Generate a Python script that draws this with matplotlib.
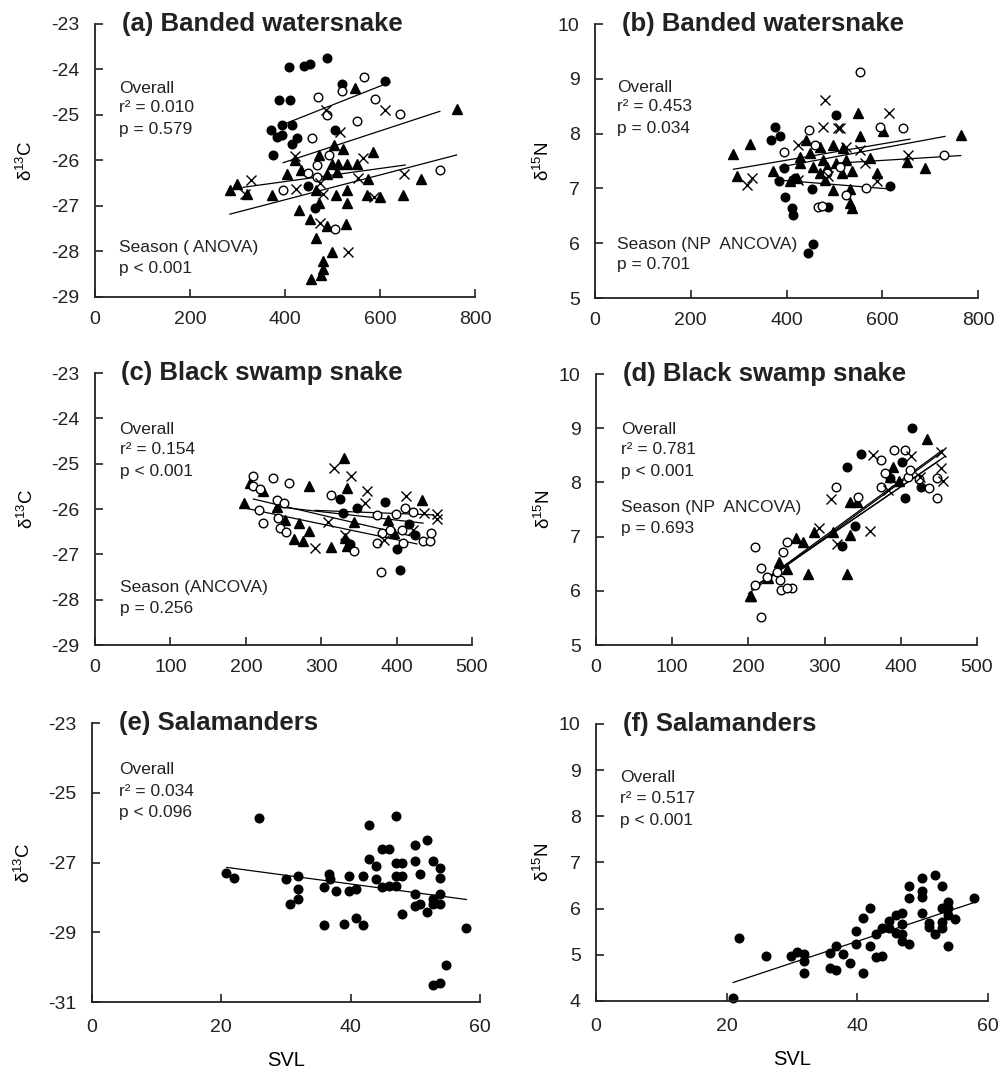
import matplotlib
matplotlib.use('Agg')
import matplotlib.pyplot as plt

plt.rcParams['font.family'] = ['Liberation Sans', 'DejaVu Sans']
plt.rcParams['mathtext.fontset'] = 'custom'
plt.rcParams['mathtext.rm'] = 'Liberation Sans'
plt.rcParams['axes.unicode_minus'] = False

# ---- (a) banded watersnake, d13C ----
a_fc_x = [408, 439, 453, 488, 519, 611, 388, 411, 371, 394, 414, 384, 393, 426, 414, 505, 375, 449, 464]
a_fc_y = [-23.95, -23.93, -23.88, -23.74, -24.31, -24.25, -24.68, -24.68, -25.32, -25.23, -25.23,
          -25.49, -25.43, -25.51, -25.64, -25.32, -25.88, -26.56, -27.04]
a_oc_x = [566, 521, 469, 590, 488, 642, 552, 456, 493, 467, 449, 467, 395, 726, 505]
a_oc_y = [-24.17, -24.47, -24.6, -24.64, -25.0, -24.97, -25.14, -25.51, -25.88, -26.1, -26.27,
          -26.36, -26.66, -26.21, -27.51]
a_tr_x = [547, 763, 504, 523, 586, 472, 421, 498, 512, 531, 551, 405, 433, 488, 509, 575, 686, 298,
          284, 319, 372, 465, 507, 531, 572, 600, 648, 530, 472, 430, 453, 489, 528, 465, 498, 481,
          479, 475, 454]
a_tr_y = [-24.41, -24.86, -25.67, -25.75, -25.81, -25.88, -25.99, -26.07, -26.07, -26.07, -26.07,
          -26.29, -26.21, -26.29, -26.25, -26.4, -26.4, -26.51, -26.66, -26.73, -26.76, -26.66,
          -26.77, -26.66, -26.77, -26.81, -26.76, -26.94, -26.93, -27.08, -27.29, -27.44, -27.4,
          -27.71, -28.02, -28.22, -28.39, -28.52, -28.61]
a_x_x = [328, 316, 423, 481, 420, 486, 610, 516, 565, 554, 650, 587, 474, 533, 474]
a_x_y = [-26.42, -26.73, -26.62, -26.73, -25.9, -24.9, -24.9, -25.38, -25.94, -26.39, -26.29,
         -26.81, -27.37, -28.02, -26.49]
a_lines = [([396, 621], [-25.21, -24.28]), ([396, 726], [-26.05, -24.92]),
           ([312, 653], [-26.59, -26.1]), ([284, 761], [-27.18, -25.88])]

# ---- (b) banded watersnake, d15N ----
b_fc_x = [376, 367, 386, 504, 395, 385, 397, 418, 411, 414, 454, 487, 456, 444, 616]
b_fc_y = [8.12, 7.89, 7.95, 8.34, 7.37, 7.13, 6.85, 7.19, 6.64, 6.52, 6.99, 6.66, 5.99, 5.82, 7.04]
b_oc_x = [553, 447, 395, 460, 595, 644, 729, 567, 525, 466, 475, 484, 512]
b_oc_y = [9.13, 8.07, 7.67, 7.79, 8.13, 8.1, 7.61, 7.0, 6.88, 6.66, 6.68, 7.28, 7.4]
b_tr_x = [289, 324, 297, 372, 440, 550, 602, 765, 651, 689, 574, 588, 532, 536, 532, 497, 428, 449,
          470, 497, 518, 525, 504, 476, 484, 456, 470, 421, 407, 515, 536, 553, 428, 480]
b_tr_y = [7.63, 7.82, 7.23, 7.31, 7.89, 8.37, 8.04, 7.98, 7.49, 7.37, 7.55, 7.28, 6.74, 6.64, 6.99,
          6.97, 7.58, 7.64, 7.76, 7.79, 7.73, 7.52, 7.46, 7.52, 7.4, 7.4, 7.28, 7.19, 7.13, 7.28,
          7.31, 7.95, 7.46, 7.16]
b_x_x = [480, 614, 477, 508, 511, 424, 525, 553, 564, 654, 588, 317, 327, 487, 424]
b_x_y = [8.61, 8.37, 8.13, 8.1, 8.1, 7.79, 7.76, 7.7, 7.46, 7.61, 7.13, 7.07, 7.19, 7.22, 7.16]
b_lines = [([289, 658], [7.35, 7.9]), ([386, 731], [7.39, 7.95]),
           ([504, 764], [7.46, 7.6]), ([376, 616], [7.16, 6.99])]

# ---- (c) black swamp snake, d13C ----
c_fc_x = [325, 329, 348, 385, 416, 424, 400, 405, 338]
c_fc_y = [-25.78, -26.09, -25.98, -25.84, -26.34, -26.57, -26.89, -27.34, -26.77]
c_oc_x = [209, 210, 219, 236, 257, 218, 223, 242, 250, 243, 245, 253, 313, 374, 399, 411, 422, 380,
          391, 407, 408, 374, 435, 444, 446, 344, 379]
c_oc_y = [-25.28, -25.5, -25.56, -25.32, -25.42, -26.02, -26.3, -25.8, -25.87, -26.2, -26.42, -26.5,
          -25.7, -26.13, -26.11, -25.98, -26.06, -26.52, -26.46, -26.46, -26.74, -26.74, -26.7,
          -26.7, -26.52, -26.92, -27.4]
c_tr_x = [330, 334, 284, 206, 223, 198, 241, 252, 271, 284, 264, 276, 313, 332, 334, 343, 389, 396, 433]
c_tr_y = [-24.88, -25.54, -25.5, -25.42, -25.61, -25.87, -25.96, -26.24, -26.3, -26.48, -26.67,
          -26.7, -26.83, -26.65, -26.81, -26.28, -26.24, -26.53, -25.8]
c_x_x = [317, 339, 361, 358, 412, 436, 453, 453, 309, 332, 292, 383, 422]
c_x_y = [-25.1, -25.28, -25.61, -25.87, -25.72, -26.08, -26.1, -26.21, -26.28, -26.57, -26.87,
         -26.68, -26.46]
c_lines = [([199, 427], [-25.98, -26.77]), ([210, 418], [-25.78, -26.59]),
           ([292, 449], [-26.03, -26.13]), ([241, 435], [-25.95, -26.31])]

# ---- (d) black swamp snake, d15N ----
d_fc_x = [415, 348, 329, 402, 426, 406, 340, 323, 386]
d_fc_y = [9.01, 8.53, 8.28, 8.37, 7.92, 7.71, 7.2, 6.82, 8.08]
d_oc_x = [208, 217, 245, 251, 224, 208, 241, 243, 257, 250, 237, 217, 315, 344, 374, 391, 406, 379,
          409, 424, 437, 447, 448, 374, 412]
d_oc_y = [6.8, 6.43, 6.71, 6.9, 6.25, 6.1, 6.2, 6.02, 6.05, 6.05, 6.35, 5.52, 7.92, 7.74, 8.42,
          8.59, 8.59, 8.17, 8.11, 8.06, 7.89, 8.08, 7.71, 7.92, 8.23]
d_tr_x = [434, 390, 398, 386, 333, 343, 333, 311, 286, 263, 272, 240, 251, 278, 330, 226, 202, 204]
d_tr_y = [8.8, 8.29, 8.02, 8.1, 7.64, 7.64, 7.03, 7.08, 7.09, 6.97, 6.91, 6.54, 6.4, 6.31, 6.32,
          6.23, 5.91, 5.9]
d_x_x = [364, 453, 453, 455, 414, 383, 309, 360, 316, 292, 425]
d_x_y = [8.51, 8.57, 8.26, 8.02, 8.48, 7.86, 7.69, 7.11, 6.87, 7.16, 8.11]
d_lines = [([200, 453], [5.95, 8.55]), ([204, 458], [6.03, 8.48]),
           ([210, 450], [6.1, 8.4]), ([226, 455], [6.25, 8.6])]

# ---- (e) salamanders, d13C ----
e_x = [20.75, 21.88, 25.9, 29.97, 31.8, 31.8, 31.8, 30.6, 35.8, 35.8, 36.7, 36.8, 37.7, 38.9, 39.8,
       39.8, 40.8, 40.8, 41.9, 41.9, 42.9, 42.9, 43.9, 43.9, 44.9, 45.98, 44.9, 45.98, 46.96, 46.96,
       46.96, 46.96, 47.99, 47.99, 47.99, 49.9, 49.9, 49.9, 49.9, 50.7, 50.7, 51.75, 51.75, 52.8,
       53.8, 53.8, 52.8, 52.8, 53.8, 53.8, 57.8, 54.8, 52.8, 53.8]
e_y = [-27.29, -27.43, -25.73, -27.47, -27.38, -27.76, -28.05, -28.19, -27.71, -28.8, -27.34,
       -27.48, -27.81, -28.77, -27.38, -27.82, -27.76, -28.6, -28.8, -27.38, -25.92, -26.91,
       -27.09, -27.48, -26.62, -26.62, -27.71, -27.66, -25.68, -27.0, -27.38, -27.66, -27.0,
       -27.38, -28.48, -26.5, -26.96, -27.89, -28.24, -27.34, -28.19, -26.35, -28.43, -26.96,
       -27.15, -27.43, -28.05, -28.19, -27.91, -28.19, -28.89, -29.93, -30.5, -30.45]
e_line = ([20.85, 57.9], [-27.14, -28.06])

# ---- (f) salamanders, d15N ----
f_x = [21.0, 21.9, 26.0, 29.9, 30.7, 31.8, 31.8, 31.8, 35.8, 35.8, 36.8, 36.8, 37.8, 38.8, 39.8,
       39.8, 40.9, 40.9, 41.9, 41.9, 42.8, 42.8, 43.8, 43.8, 44.9, 44.9, 45.9, 45.9, 46.9, 46.9,
       46.9, 46.9, 47.9, 47.9, 47.9, 49.9, 49.9, 49.9, 49.9, 50.9, 50.9, 51.9, 51.9, 52.9, 52.9,
       52.9, 52.9, 53.9, 53.9, 53.9, 53.9, 54.9, 57.9]
f_y = [4.06, 5.37, 4.97, 4.97, 5.05, 5.01, 4.87, 4.6, 5.03, 4.71, 4.66, 5.19, 5.02, 4.83, 5.52,
       5.23, 4.6, 5.79, 6.01, 5.2, 5.44, 4.95, 4.97, 5.59, 5.74, 5.59, 5.86, 5.47, 5.9, 5.66, 5.44,
       5.3, 6.5, 6.23, 5.23, 6.66, 6.38, 6.26, 5.91, 5.68, 5.61, 6.73, 5.44, 6.5, 6.01, 5.7, 5.57,
       6.15, 6.01, 5.86, 5.19, 5.77, 6.23]
f_line = ([21.0, 57.6], [4.4, 6.12])

titles = ['(a) Banded watersnake', '(b) Banded watersnake', '(c) Black swamp snake',
          '(d) Black swamp snake', '(e) Salamanders', '(f) Salamanders']

fig = plt.figure(figsize=(9.99, 10.74), dpi=100)

rects = [
    [0.0951, 0.7235, 0.3804, 0.2542],
    [0.5956, 0.7225, 0.3834, 0.2551],
    [0.0951, 0.3994, 0.3774, 0.2533],
    [0.5966, 0.3994, 0.3814, 0.2523],
    [0.0921, 0.0670, 0.3884, 0.2598],
    [0.5966, 0.0680, 0.3924, 0.2579],
]
axs = [fig.add_axes(r) for r in rects]

ms = 6.2


def style(ax, xlim, xticks, ylim, yticks, ylab, title, labx):
    ax.set_xlim(xlim)
    ax.set_ylim(ylim)
    ax.set_xticks(xticks)
    ax.set_yticks(yticks)
    for s in ['top', 'right']:
        ax.spines[s].set_visible(False)
    for s in ['left', 'bottom']:
        ax.spines[s].set_linewidth(1.3)
        ax.spines[s].set_color('#222222')
    ax.tick_params(direction='in', length=6, width=1.2, labelsize=14, colors='#222222', pad=10)
    ax.tick_params(axis='y', pad=11)
    ax.set_ylabel(ylab, fontsize=13.5)
    ax.yaxis.set_label_coords(labx, 0.5)
    ax.text(0.07, 1.0, title, transform=ax.transAxes, fontsize=18.5, fontweight='bold',
            va='center', ha='left', color='#222222')


def season_pts(ax, fc, oc, tr, xx, lines):
    for lx, ly in lines:
        ax.plot(lx, ly, color='black', lw=0.9)
    ax.plot(tr[0], tr[1], '^', color='black', ms=ms + 0.8, ls='none')
    ax.plot(fc[0], fc[1], 'o', color='black', ms=ms, ls='none')
    ax.plot(oc[0], oc[1], 'o', mfc='white', mec='black', mew=1.0, ms=ms, ls='none')
    ax.plot(xx[0], xx[1], 'x', color='black', mew=1.0, ms=ms + 1, ls='none')


d13 = 'δ$^{13}$C'
d15 = 'δ$^{15}$N'

season_pts(axs[0], (a_fc_x, a_fc_y), (a_oc_x, a_oc_y), (a_tr_x, a_tr_y), (a_x_x, a_x_y), a_lines)
style(axs[0], (0, 800), range(0, 801, 200), (-29, -23), range(-29, -22), d13, titles[0], -0.155)
season_pts(axs[1], (b_fc_x, b_fc_y), (b_oc_x, b_oc_y), (b_tr_x, b_tr_y), (b_x_x, b_x_y), b_lines)
style(axs[1], (0, 800), range(0, 801, 200), (5, 10), range(5, 11), d15, titles[1], -0.11)
season_pts(axs[2], (c_fc_x, c_fc_y), (c_oc_x, c_oc_y), (c_tr_x, c_tr_y), (c_x_x, c_x_y), c_lines)
style(axs[2], (0, 500), range(0, 501, 100), (-29, -23), range(-29, -22), d13, titles[2], -0.155)
season_pts(axs[3], (d_fc_x, d_fc_y), (d_oc_x, d_oc_y), (d_tr_x, d_tr_y), (d_x_x, d_x_y), d_lines)
style(axs[3], (0, 500), range(0, 501, 100), (5, 10), range(5, 11), d15, titles[3], -0.11)

axs[4].plot(e_line[0], e_line[1], color='black', lw=0.9)
axs[4].plot(e_x, e_y, 'o', color='black', ms=ms, ls='none')
style(axs[4], (0, 60), range(0, 61, 20), (-31, -23), range(-31, -22, 2), d13, titles[4], -0.15)
axs[5].plot(f_line[0], f_line[1], color='black', lw=0.9)
axs[5].plot(f_x, f_y, 'o', color='black', ms=ms, ls='none', clip_on=False)
style(axs[5], (0, 60), range(0, 61, 20), (4, 10), range(4, 11), d15, titles[5], -0.11)
for ax in axs[4:]:
    ax.tick_params(axis='x', pad=12)
    ax.set_xlabel('SVL', fontsize=14.5, labelpad=11)

# annotation texts (axes fractions)
notes = [
    (0, [('Overall', 0.765), ('r² = 0.010', 0.693), ('p = 0.579', 0.613),
         ('Season ( ANOVA)', 0.18), ('p < 0.001', 0.105)], 0.063),
    (1, [('Overall', 0.77), ('r² = 0.453', 0.698), ('p = 0.034', 0.62),
         ('Season (NP  ANCOVA)', 0.194), ('p = 0.701', 0.122)], 0.057),
    (2, [('Overall', 0.793), ('r² = 0.154', 0.718), ('p < 0.001', 0.638),
         ('Season (ANCOVA)', 0.212), ('p = 0.256', 0.135)], 0.065),
    (3, [('Overall', 0.796), ('r² = 0.781', 0.72), ('p < 0.001', 0.64),
         ('Season (NP  ANCOVA)', 0.508), ('p = 0.693', 0.43)], 0.065),
    (4, [('Overall', 0.833), ('r² = 0.034', 0.755), ('p < 0.096', 0.679)], 0.069),
    (5, [('Overall', 0.805), ('r² = 0.517', 0.73), ('p < 0.001', 0.653)], 0.061),
]
for i, items, xf in notes:
    for txt, yf in items:
        axs[i].text(xf, yf, txt, transform=axs[i].transAxes, fontsize=12.5, va='center',
                    ha='left', color='#222222')

plt.savefig('out.png', dpi=100)
